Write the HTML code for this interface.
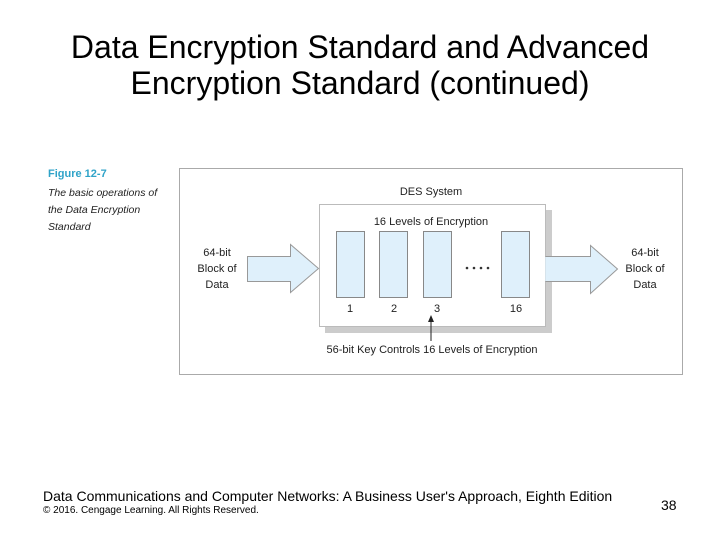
<!DOCTYPE html>
<html><head><meta charset="utf-8"><style>
body{margin:0;width:720px;height:540px;background:#fff;overflow:hidden;position:relative;font-family:"Liberation Sans",sans-serif}
.t{position:absolute;left:0;width:720px;text-align:center;font-size:32px;line-height:36px;top:29px;color:#000}
.f{position:absolute;font-size:14px;color:#000}
</style></head><body>
<div class="t">Data Encryption Standard and Advanced<br>Encryption Standard (continued)</div>
<svg width="720" height="540" style="position:absolute;left:0;top:0" font-family="Liberation Sans, sans-serif">
<text x="48" y="177" font-size="11" font-weight="bold" fill="#2fa3c8">Figure 12-7</text>
<g font-size="10.5" font-style="italic" fill="#222">
<text x="48" y="196">The basic operations of</text>
<text x="48" y="213">the Data Encryption</text>
<text x="48" y="230">Standard</text>
</g>
<rect x="179.5" y="168.5" width="503" height="206" fill="#fff" stroke="#aaa"/>
<text x="431" y="195" font-size="11" text-anchor="middle" fill="#222">DES System</text>
<rect x="325" y="210" width="227" height="123" fill="#ccc"/>
<rect x="319.5" y="204.5" width="226" height="122" fill="#fff" stroke="#bbb"/>
<text x="431" y="225" font-size="11" text-anchor="middle" fill="#222">16 Levels of Encryption</text>
<g fill="#dff0fb" stroke="#888">
<rect x="336.5" y="231.5" width="28" height="66"/>
<rect x="379.5" y="231.5" width="28" height="66"/>
<rect x="423.5" y="231.5" width="28" height="66"/>
<rect x="501.5" y="231.5" width="28" height="66"/>
</g>
<g font-size="11" text-anchor="middle" fill="#222">
<text x="350" y="312">1</text><text x="394" y="312">2</text><text x="437" y="312">3</text><text x="516" y="312">16</text>
</g>
<g fill="#333"><circle cx="467" cy="268" r="1.3"/><circle cx="474" cy="268" r="1.3"/><circle cx="481" cy="268" r="1.3"/><circle cx="488" cy="268" r="1.3"/></g>
<polygon points="247.5,256.5 290.5,256.5 290.5,244.5 318.5,268.5 290.5,292.5 290.5,281.5 247.5,281.5" fill="#dff0fb" stroke="#999"/>
<polygon points="546,256.5 590.5,256.5 590.5,245.5 617.5,269 590.5,293.5 590.5,281.5 546,281.5" fill="#dff0fb" stroke="#999"/>
<line x1="546" y1="257" x2="546" y2="281" stroke="#dff0fb" stroke-width="1.5"/>
<g font-size="11" text-anchor="middle" fill="#222">
<text x="217" y="256">64-bit</text><text x="217" y="272">Block of</text><text x="217" y="288">Data</text>
<text x="645" y="256">64-bit</text><text x="645" y="272">Block of</text><text x="645" y="288">Data</text>
</g>
<line x1="431" y1="341" x2="431" y2="320" stroke="#222"/>
<polygon points="428,322 431,315 434,322" fill="#222"/>
<text x="432" y="353" font-size="11" text-anchor="middle" fill="#222">56-bit Key Controls 16 Levels of Encryption</text>
</svg>
<div class="f" style="left:43px;top:488px;font-size:14px">Data Communications and Computer Networks: A Business User's Approach, Eighth Edition</div>
<div class="f" style="left:43px;top:505px;font-size:10px">© 2016. Cengage Learning. All Rights Reserved.</div>
<div class="f" style="left:661px;top:497px;font-size:14px">38</div>
</body></html>
